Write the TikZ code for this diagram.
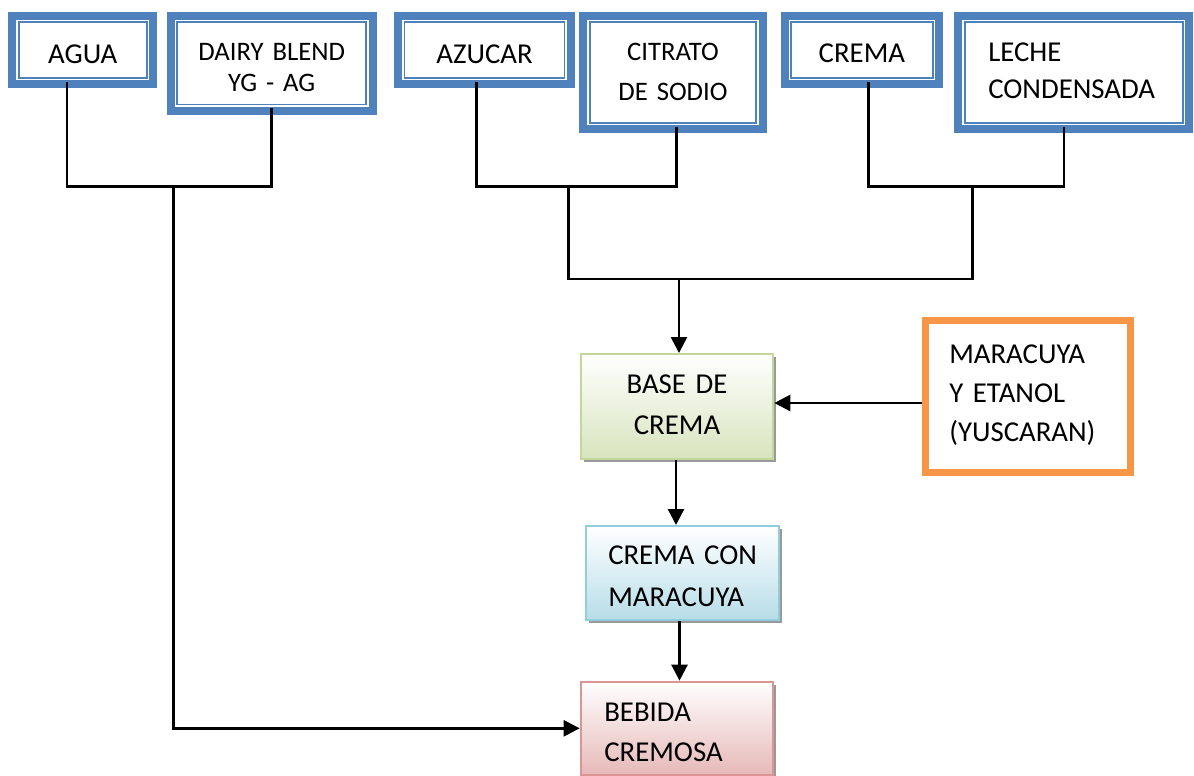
\documentclass[tikz,border=0pt]{standalone}
\usepackage{fontspec}
\setmainfont{Carlito}
\usetikzlibrary{arrows.meta,shadows}

\definecolor{boxblue}{HTML}{4F81BD}
\definecolor{orangeline}{HTML}{F79646}
\definecolor{greenline}{HTML}{C3D69B}
\definecolor{greenfill}{HTML}{D7E4BD}
\definecolor{cyanline}{HTML}{92CDDC}
\definecolor{cyanfill}{HTML}{B7DDE8}
\definecolor{roseline}{HTML}{D99694}
\definecolor{rosefill}{HTML}{E6B9B8}

% text sizes: #1 is the line spacing
\newcommand\stagefont[1]{\fontsize{28.8}{#1}\selectfont}
\newcommand\smallstagefont[1]{\fontsize{26.7}{#1}\selectfont}

\tikzset{
  ingredient/.style={draw=boxblue, line width=8pt, fill=white, inner sep=0pt,
    path picture={\draw[boxblue, line width=1.6pt]
      ([shift={(6.5pt,-6.5pt)}]path picture bounding box.north west) rectangle
      ([shift={(-6.5pt,6.5pt)}]path picture bounding box.south east);}},
  stage/.style 2 args={draw=#1, line width=2pt, top color=white, bottom color=#2,
    inner sep=0pt, drop shadow={shadow xshift=3pt, shadow yshift=-3pt,
      fill=black!40, opacity=1}},
  extra/.style={draw=orangeline, line width=6.7pt, fill=white, inner sep=0pt},
  link/.style={line width=2.5pt, black},
  arr/.style={link, -{Triangle[length=16pt,width=16pt]}}
}

\begin{document}
\begin{tikzpicture}[x=1pt, y=-1pt]
\useasboundingbox (0,0) rectangle (1194,776);

% ingredients
\node[ingredient, minimum width=141pt, minimum height=68.6pt, text width=141pt,
  align=center, text height=26.6pt, text depth=0pt, font=\stagefont{40}]
  (agua) at (82.8,50) {AGUA};
\node[ingredient, minimum width=202pt, minimum height=95.3pt, text width=202pt,
  align=center, text height=0pt, text depth=6.6pt, font=\smallstagefont{31.7}]
  (dairy) at (271.7,63.3) {\mbox{DAIRY BLEND}\\\mbox{YG - AG}};
\node[ingredient, minimum width=173pt, minimum height=68.6pt, text width=173pt,
  align=center, text height=26.6pt, text depth=0pt, font=\stagefont{40}]
  (azucar) at (484.5,50) {AZUCAR};
\node[ingredient, minimum width=179.4pt, minimum height=113.6pt, text width=179.4pt,
  align=center, text height=0pt, text depth=25pt, font=\smallstagefont{40}]
  (citrato) at (673,72.5) {CITRATO\\\mbox{DE SODIO}};
\node[ingredient, minimum width=154.8pt, minimum height=68.6pt, text width=154.8pt,
  align=center, text height=25.4pt, text depth=0pt, font=\stagefont{40}]
  (crema) at (861.9,50) {CREMA};
\node[ingredient, minimum width=231pt, minimum height=113.6pt, inner xsep=30pt,
  text width=171pt, align=left, text height=0pt, text depth=21.6pt,
  font=\stagefont{37.3}]
  (leche) at (1073.8,72.5) {LECHE\\CONDENSADA};

% process stages
\node[stage={greenline}{greenfill}, minimum width=192.6pt, minimum height=105.3pt,
  text width=192.6pt, align=center, text height=0pt, text depth=26.8pt,
  font=\stagefont{41}]
  (base) at (677,406.7) {\mbox{BASE DE}\\CREMA};
\node[stage={cyanline}{cyanfill}, minimum width=193.3pt, minimum height=94pt,
  inner xsep=22.6pt, text width=148.1pt, align=left, text height=0pt,
  text depth=18pt, font=\stagefont{42}]
  (cremacon) at (682.3,573) {\mbox{CREMA CON}\\MARACUYA};
\node[stage={roseline}{rosefill}, minimum width=192.6pt, minimum height=93.3pt,
  inner xsep=23.6pt, text width=145.4pt, align=left, text height=0pt,
  text depth=13.2pt, font=\stagefont{40}]
  (bebida) at (677,728.3) {BEBIDA\\CREMOSA};

% flavouring
\node[extra, minimum width=205pt, minimum height=151.7pt, inner xsep=23.6pt,
  text width=157.8pt, align=left, text height=0pt, text depth=66.4pt,
  font=\stagefont{39}]
  (maracuya) at (1028.2,396.5) {MARACUYA\\\mbox{Y ETANOL}\\(YUSCARAN)};

% junctions
\coordinate (j1) at (173.5,186.7);
\coordinate (j2) at (568.3,186.7);
\coordinate (j3) at (972.3,186.7);
\coordinate (j4) at (679,279);

% pairs of ingredients
\draw[link] ([xshift=-15.8pt,yshift=6.5pt]agua.south) |- (j1)
  -| ([yshift=6.5pt]dairy.south);
\draw[link] ([xshift=-7.8pt,yshift=6.5pt]azucar.south) |- (j2)
  -| ([xshift=3.7pt,yshift=6.5pt]citrato.south);
\draw[link] ([xshift=6.4pt,yshift=6.5pt]crema.south) |- (j3)
  -| ([xshift=-9.8pt,yshift=6.5pt]leche.south);
\draw[link] (j2) |- (j4) -| (j3);

% flow
\draw[arr] (j4) -- (j4 |- base.north);
\draw[arr] ([xshift=-1pt]base.south) coordinate (b1) -- (b1 |- cremacon.north);
\draw[arr] ([xshift=-2.8pt]cremacon.south) coordinate (c1) -- (c1 |- bebida.north);
\coordinate (m1) at ([yshift=-6.5pt]maracuya.west);
\draw[arr] (m1) -- (m1 -| base.east);
\draw[arr] (j1) |- (bebida.west);
\end{tikzpicture}
\end{document}
